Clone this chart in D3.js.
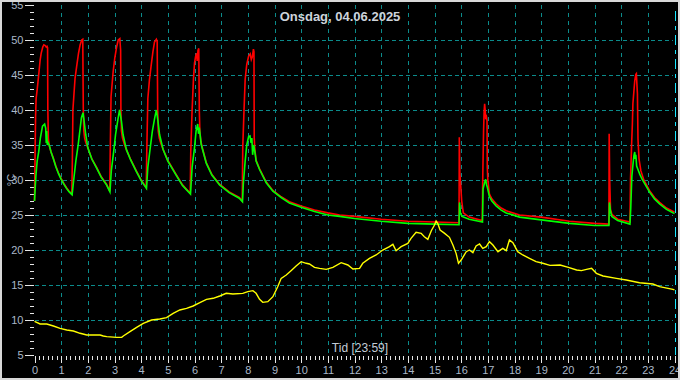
<!DOCTYPE html>
<html><head><meta charset="utf-8">
<script src="https://cdn.jsdelivr.net/npm/d3@7"></script>
<style>html,body{margin:0;padding:0;background:#000;overflow:hidden}svg{display:block}</style>
</head><body><svg id="c" width="680" height="380"></svg>
<script>
const chartTitle = "Onsdag, 04.06.2025";
const xTitle = "Tid [23:59]";
const yTitle = "°C";
const hourTicks = [0,1,2,3,4,5,6,7,8,9,10,11,12,13,14,15,16,17,18,19,20,21,22,23,24];
const tempTicks = [5,10,15,20,25,30,35,40,45,50,55];
const gridTemps = [10,15,20,25,30,35,40,45,50];

// [hour, °C]
const redSeries = [
[0.00,27.0],[0.02,33],[0.04,39],[0.06,41.6],[0.10,42.9],[0.13,44.0],[0.17,45.5],[0.21,47.1],[0.25,48.1],[0.31,49.0],[0.35,49.3],[0.40,49.2],[0.44,49.0],[0.47,49.1],[0.49,48.9],[0.50,40.0],[0.52,36.0],
[0.55,35.0],[0.62,34.0],[0.70,33.2],[0.80,32.0],[0.90,31.0],[1.00,30.2],[1.10,29.5],[1.20,28.9],[1.30,28.4],[1.40,28.0],
[1.42,33.0],[1.44,40.0],[1.52,44.5],[1.58,46.2],[1.65,48.1],[1.71,49.3],[1.77,50.0],[1.81,50.1],[1.83,40.0],[1.85,37.0],
[1.88,36.0],[1.92,35.4],[2.00,34.6],[2.15,33.0],[2.33,31.8],[2.50,30.5],[2.70,29.4],[2.82,28.4],
[2.84,34.0],[2.87,41.9],[2.95,45.5],[3.01,47.4],[3.08,49.0],[3.14,50.0],[3.20,50.2],[3.23,48.5],[3.24,40.0],[3.26,37.0],
[3.30,36.0],[3.38,35.0],[3.45,34.3],[3.60,33.0],[3.82,31.3],[4.00,30.0],[4.19,28.9],
[4.21,34.0],[4.25,41.6],[4.31,44.3],[4.37,46.2],[4.44,48.3],[4.50,49.7],[4.57,50.1],[4.60,49.8],[4.62,40.0],[4.64,37.0],
[4.68,36.0],[4.74,35.2],[4.82,34.4],[5.00,32.8],[5.31,30.8],[5.55,29.3],[5.84,28.1],
[5.86,34.0],[5.91,40.0],[5.96,44.3],[6.00,46.7],[6.04,47.6],[6.08,48.1],[6.10,47.0],[6.13,48.5],[6.16,48.8],[6.18,40.0],[6.20,37.0],
[6.24,35.5],[6.30,34.5],[6.44,32.5],[6.65,30.8],[6.94,29.4],[7.30,28.3],[7.68,27.5],[7.79,27.0],
[7.81,34.7],[7.85,39.2],[7.90,44.4],[7.96,46.5],[8.03,47.7],[8.09,48.0],[8.13,47.2],[8.17,47.6],[8.21,48.7],[8.23,48.3],[8.24,36.0],[8.26,34.5],
[8.31,32.8],[8.44,31.6],[8.69,29.7],[8.94,28.5],[9.25,27.6],[9.56,26.9],[10.0,26.3],[10.5,25.7],[11.0,25.3],[11.44,25.0],[12.0,24.8],[13.0,24.4],[14.0,24.1],[15.0,24.0],[15.92,23.9],
[15.93,36.1],[15.95,31.0],[15.98,29.4],[16.02,27.0],[16.08,25.3],[16.30,24.7],[16.79,24.2],
[16.81,30.4],[16.84,37.0],[16.86,39.7],[16.88,40.9],[16.90,40.0],[16.92,38.7],[16.95,39.0],[16.97,38.5],[16.98,31.8],[17.00,30.0],
[17.06,28.0],[17.15,27.3],[17.31,26.6],[17.50,26.0],[17.69,25.6],[18.19,25.0],[19.0,24.7],[20.06,24.1],[21.0,23.8],[21.54,23.7],
[21.55,36.6],[21.57,30.0],[21.60,25.8],[21.65,25.1],[21.87,24.4],[22.33,24.0],
[22.35,30.0],[22.39,34.9],[22.42,38.0],[22.44,40.9],[22.48,42.8],[22.51,44.2],[22.55,45.1],[22.57,45.2],[22.59,43.7],[22.61,42.3],[22.63,35.9],[22.67,33.0],
[22.74,31.3],[22.85,30.0],[23.06,28.5],[23.25,27.5],[23.44,26.8],[23.70,26.0],[24.0,25.4]
];

const greenSeries = [
[0.00,27.0],[0.05,30.5],[0.10,32.7],[0.16,34.1],[0.22,36.0],[0.30,37.7],[0.38,38.0],[0.42,37.4],[0.44,35.3],[0.46,37.0],[0.48,35.0],[0.50,35.4],
[0.55,35.0],[0.62,34.0],[0.70,33.1],[0.80,31.9],[0.90,30.9],[1.00,30.1],[1.10,29.4],[1.20,28.8],[1.30,28.3],[1.41,27.9],
[1.47,30.0],[1.55,32.7],[1.64,35.1],[1.70,37.0],[1.76,38.9],[1.82,39.6],[1.86,38.4],[1.92,36.5],[2.00,34.6],[2.15,33.0],[2.33,31.7],[2.50,30.4],[2.70,29.3],[2.83,28.3],
[2.88,31.3],[2.97,34.1],[3.04,36.5],[3.13,38.7],[3.19,40.0],[3.26,38.4],[3.32,36.5],[3.45,34.3],[3.60,32.9],[3.82,31.2],[4.00,29.9],[4.20,28.8],
[4.25,31.8],[4.34,34.6],[4.42,37.0],[4.51,38.9],[4.57,40.0],[4.63,38.4],[4.69,36.5],[4.82,34.4],[5.00,32.7],[5.31,30.7],[5.55,29.2],[5.85,28.0],
[5.91,31.8],[6.00,34.6],[6.06,37.0],[6.12,38.0],[6.15,36.6],[6.18,37.5],[6.25,35.1],[6.30,34.4],[6.44,32.4],[6.65,30.7],[6.94,29.3],[7.30,28.2],[7.68,27.4],[7.80,26.9],
[7.83,29.4],[7.90,32.7],[7.96,35.0],[8.03,36.2],[8.08,36.3],[8.12,35.3],[8.15,36.0],[8.18,33.6],[8.22,35.0],[8.28,33.6],
[8.31,32.7],[8.44,31.5],[8.69,29.6],[8.94,28.4],[9.25,27.5],[9.56,26.7],[10.0,26.1],[10.5,25.5],[11.0,25.0],[11.44,24.8],[12.0,24.5],[13.0,24.1],[14.0,23.8],[15.0,23.7],[15.92,23.6],
[15.94,26.8],[15.97,25.3],[16.03,24.8],[16.30,24.4],[16.80,24.0],
[16.82,28.7],[16.87,29.5],[16.92,30.1],[16.95,29.3],[16.98,29.0],[17.02,28.3],
[17.06,27.6],[17.15,27.0],[17.31,26.3],[17.50,25.7],[17.69,25.3],[18.19,24.7],[19.0,24.3],[20.06,23.8],[21.0,23.5],[21.54,23.5],
[21.56,26.8],[21.60,25.5],[21.65,24.8],[21.87,24.2],[22.33,23.7],
[22.36,26.0],[22.40,30.5],[22.45,32.5],[22.48,33.5],[22.51,34.0],[22.53,33.0],[22.55,33.6],[22.58,32.0],[22.63,31.5],[22.70,30.8],[22.80,30.0],[23.06,28.3],[23.25,27.3],[23.44,26.6],[23.70,25.8],[24.0,25.2]
];

const yellowSeries = [
[0.00,9.8],[0.21,9.43],[0.46,9.43],[0.71,9.14],[0.96,8.81],[1.21,8.57],[1.46,8.43],[1.71,8.10],[1.96,7.86],[2.21,7.86],[2.46,7.86],[2.58,7.71],[2.71,7.62],[3.08,7.52],[3.27,7.52],[3.33,7.71],
[3.58,8.33],[3.83,8.95],[4.08,9.52],[4.39,10.0],[4.70,10.14],[4.95,10.33],[5.20,10.95],[5.45,11.43],[5.70,11.67],[5.95,12.0],[6.20,12.48],[6.45,12.95],[6.70,13.1],[6.95,13.43],[7.19,13.81],
[7.44,13.71],[7.81,13.81],[8.00,14.05],[8.19,14.19],[8.31,13.81],[8.44,12.95],[8.56,12.52],[8.75,12.62],[8.94,13.33],[9.12,14.76],[9.25,15.95],[9.44,16.43],[9.62,17.05],[9.81,17.71],[10.0,18.33],
[10.19,18.10],[10.31,18.0],[10.5,17.52],[10.69,17.38],[10.94,17.24],[11.19,17.52],[11.5,18.19],[11.75,17.86],[11.94,17.29],[12.19,17.38],[12.31,18.10],[12.56,18.81],[12.81,19.29],[13.06,20.0],
[13.31,20.48],[13.44,20.81],[13.56,19.90],[13.75,20.48],[14.0,20.95],[14.12,21.67],[14.31,22.52],[14.5,22.38],[14.62,21.9],[14.75,21.52],[14.88,22.76],[15.0,23.57],[15.06,24.14],[15.12,23.81],
[15.21,22.86],[15.38,22.38],[15.56,21.81],[15.69,20.71],[15.81,19.52],[15.9,18.10],[16.0,18.57],[16.19,19.76],[16.31,20.0],[16.44,19.62],[16.56,20.57],[16.69,20.86],[16.81,20.24],[16.94,20.48],
[17.06,21.19],[17.19,20.71],[17.38,19.76],[17.56,20.24],[17.69,19.90],[17.81,21.43],[17.94,21.05],[18.12,19.76],[18.31,19.29],[18.56,18.81],[18.81,18.33],[19.06,18.10],[19.33,17.8],[19.71,17.86],
[20.02,17.52],[20.33,17.14],[20.51,17.05],[20.70,17.24],[20.89,17.38],[21.07,16.67],[21.32,16.29],[21.82,15.95],[22.19,15.71],[22.69,15.33],[23.19,15.14],[23.44,14.76],[23.94,14.38],[24.0,14.3]
];

const W = 680, H = 380;
const svg = d3.select("#c");
const x = d3.scaleLinear().domain([0, 24]).range([34.5, 674.5]);
const y = d3.scaleLinear().domain([5, 55]).range([355, 5]);
const labelColor = "#aab8c8";
const gridColor = "#0b8b8b";

svg.append("rect").attr("width", W).attr("height", H).attr("fill", "#000");

// grid
const grid = svg.append("g").attr("shape-rendering", "crispEdges");
grid.selectAll("line.h").data(gridTemps).join("line")
  .attr("x1", x(0)).attr("x2", x(24) - 2)
  .attr("y1", d => Math.round(y(d)) + 0.5).attr("y2", d => Math.round(y(d)) + 0.5)
  .attr("stroke", gridColor).attr("stroke-width", 1).attr("stroke-dasharray", "4,3");
grid.selectAll("line.v").data(hourTicks.filter(h => h > 0 && h < 24)).join("line")
  .attr("x1", d => Math.round(x(d)) + 0.5).attr("x2", d => Math.round(x(d)) + 0.5)
  .attr("y1", y(55)).attr("y2", y(5))
  .attr("stroke", gridColor).attr("stroke-width", 1).attr("stroke-dasharray", "4,4");

// current-time marker
svg.append("line")
  .attr("x1", Math.round(x(24)) + 0.5).attr("x2", Math.round(x(24)) + 0.5)
  .attr("y1", y(55) + 6).attr("y2", y(5))
  .attr("stroke", "#19e6ff").attr("stroke-width", 1.3).attr("stroke-dasharray", "10,5,4,5")
  .attr("shape-rendering", "crispEdges");

// axes
function styleAxis(g) {
  g.select(".domain").remove();
  g.selectAll(".tick line").attr("stroke", "#e6e6e6").attr("shape-rendering", "crispEdges");
  g.selectAll("text").attr("fill", labelColor).attr("font-family", "'Liberation Sans', Arial, sans-serif").attr("font-size", 11);
}
const minorHours = d3.range(0, 24 * 6 + 1).map(i => i / 6).filter(h => Math.abs(h - Math.round(h)) > 1e-6);
svg.append("g").attr("transform", `translate(0,356)`)
  .call(d3.axisBottom(x).tickValues(minorHours).tickSize(3.5).tickFormat(""))
  .call(styleAxis);
const xAx = svg.append("g").attr("transform", `translate(0,356)`)
  .call(d3.axisBottom(x).tickValues(hourTicks).tickSize(7).tickFormat(d => String(d)))
  .call(styleAxis);
xAx.selectAll("text").attr("y", 18).attr("dy", 0);

const minorTemps = d3.range(5, 56).filter(v => v % 5 !== 0);
svg.append("g").attr("transform", `translate(34,0)`)
  .call(d3.axisLeft(y).tickValues(minorTemps).tickSize(4).tickFormat(""))
  .call(styleAxis);
const yAx = svg.append("g").attr("transform", `translate(34,0)`)
  .call(d3.axisLeft(y).tickValues(tempTicks).tickSize(9).tickFormat(d => String(d)))
  .call(styleAxis);
yAx.selectAll("text").attr("x", -10.5);

// series
const line = d3.line().x(d => x(d[0])).y(d => y(d[1]));
svg.append("path").datum(redSeries).attr("d", line)
  .attr("fill", "none").attr("stroke", "#ff0000").attr("stroke-width", 1.6).attr("stroke-linejoin", "miter");
svg.append("path").datum(greenSeries).attr("d", line)
  .attr("fill", "none").attr("stroke", "#00ff00").attr("stroke-width", 1.6);
svg.append("path").datum(yellowSeries).attr("d", line)
  .attr("fill", "none").attr("stroke", "#ffff00").attr("stroke-width", 1.4);

// texts
svg.append("text").attr("x", 340).attr("y", 21).attr("text-anchor", "middle")
  .attr("fill", "#cdd3da").attr("font-family", "'Liberation Sans', Arial, sans-serif")
  .attr("font-weight", "bold").attr("font-size", 13).text(chartTitle);
svg.append("text").attr("x", 360).attr("y", 352).attr("text-anchor", "middle")
  .attr("fill", "#c3ccd6").attr("font-family", "'Liberation Sans', Arial, sans-serif")
  .attr("font-size", 12).text(xTitle);
svg.append("text").attr("transform", "translate(15,180) rotate(-90)").attr("text-anchor", "middle")
  .attr("fill", labelColor).attr("font-family", "'Liberation Sans', Arial, sans-serif")
  .attr("font-size", 11).text(yTitle);

// frame
svg.append("rect").attr("x", 1).attr("y", 1).attr("width", W - 2).attr("height", H - 2)
  .attr("fill", "none").attr("stroke", "#d8d8d8").attr("stroke-width", 2);
</script>
</body></html>
